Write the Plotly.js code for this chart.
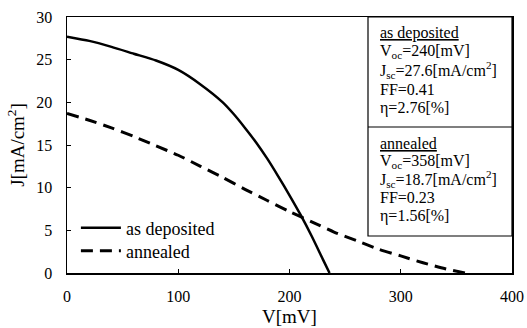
<!DOCTYPE html>
<html>
<head>
<meta charset="utf-8">
<script src="https://cdn.plot.ly/plotly-3.0.1.min.js"></script>
<style>
  html, body { margin: 0; padding: 0; background: #fff; }
  #chart { width: 527px; height: 328px; }
  #chart text { font-family: "Liberation Serif", "Times New Roman", serif !important; }
</style>
</head>
<body>
<div id="chart"></div>
<script>
// J–V curves of the cell before and after annealing
const seriesNames = ['as deposited', 'annealed'];

const vDeposited = [0, 20, 40, 60, 80, 100, 120, 140, 150, 160, 170, 180, 190, 200, 210, 220, 230, 236];
const jDeposited = [27.7, 27.2, 26.5, 25.7, 24.9, 23.8, 22.1, 20.0, 18.6, 17.0, 15.3, 13.4, 11.3, 9.1, 6.8, 4.3, 1.6, 0];

const vAnnealed = [0, 20, 40, 60, 80, 100, 120, 140, 160, 180, 200, 220, 240, 260, 280, 300, 320, 340, 358];
const jAnnealed = [18.7, 17.9, 17.0, 16.0, 14.9, 13.8, 12.5, 11.2, 9.8, 8.5, 7.2, 6.0, 4.8, 3.8, 2.8, 2.0, 1.2, 0.5, 0];

const xTicks = [0, 100, 200, 300, 400];
const yTicks = [0, 5, 10, 15, 20, 25, 30];

// parameter table text
const paramDeposited = [
  '<u>as deposited</u>',
  'V<sub>oc</sub>=240[mV]',
  'J<sub>sc</sub>=27.6[mA/cm<sup>2</sup>]',
  'FF=0.41',
  'η=2.76[%]'
];
const paramAnnealed = [
  '<u>annealed</u>',
  'V<sub>oc</sub>=358[mV]',
  'J<sub>sc</sub>=18.7[mA/cm<sup>2</sup>]',
  'FF=0.23',
  'η=1.56[%]'
];

const FONT = 'Liberation Serif';

const traces = [
  {
    x: vDeposited, y: jDeposited, name: seriesNames[0], legend: 'legend',
    mode: 'lines', line: { color: '#000', width: 2.5, shape: 'spline', smoothing: 0.6 }
  },
  {
    x: vAnnealed, y: jAnnealed, name: seriesNames[1], legend: 'legend2',
    mode: 'lines', line: { color: '#000', width: 3, dash: '12px,7px', shape: 'spline', smoothing: 0.6 }
  }
];

function paramLines(lines, yTop, step) {
  return lines.map((t, i) => ({
    xref: 'paper', yref: 'paper',
    x: (378 - 67) / 445, y: 1 - (yTop + i * step - 17) / 256,
    xanchor: 'left', yanchor: 'middle',
    text: t, showarrow: false,
    font: { family: FONT, size: 16, color: '#000' }
  }));
}

function legendAt(yCenter) {
  return {
    x: 0.02, y: 1 - (yCenter - 17) / 256, xanchor: 'left', yanchor: 'middle',
    bgcolor: 'rgba(0,0,0,0)', borderwidth: 0,
    font: { family: FONT, size: 18, color: '#000' },
    itemwidth: 40
  };
}

const layout = {
  width: 527, height: 328,
  margin: { l: 67, r: 15, t: 17, b: 55 },
  paper_bgcolor: '#fff', plot_bgcolor: '#fff',
  font: { family: FONT, color: '#000', size: 16 },
  showlegend: true,
  legend: legendAt(228),
  legend2: legendAt(251),
  xaxis: {
    range: [0, 400], tickvals: xTicks, ticks: 'inside', ticklen: 4,
    tickcolor: '#000', showline: true, linecolor: '#000', linewidth: 1.5, mirror: true,
    showgrid: false, zeroline: false,
    tickfont: { family: FONT, size: 16 },
    ticklabelstandoff: 8,
    title: { text: 'V[mV]', font: { family: FONT, size: 19 }, standoff: 6 }
  },
  yaxis: {
    range: [0, 30], tickvals: yTicks, ticks: 'inside', ticklen: 4,
    tickcolor: '#000', showline: true, linecolor: '#000', linewidth: 1.5, mirror: true,
    showgrid: false, zeroline: false,
    tickfont: { family: FONT, size: 16 },
    ticklabelstandoff: 10,
    title: { text: 'J[mA/cm<sup>2</sup>]', font: { family: FONT, size: 19 }, standoff: 6 }
  },
  shapes: [
    {
      type: 'rect', xref: 'paper', yref: 'paper',
      x0: (368 - 67) / 445, x1: 1, y0: 1 - (236 - 17) / 256, y1: 1,
      line: { color: '#000', width: 1.2 }, fillcolor: '#fff', layer: 'above'
    },
    {
      type: 'line', xref: 'paper', yref: 'paper',
      x0: (368 - 67) / 445, x1: 1, y0: 1 - (127 - 17) / 256, y1: 1 - (127 - 17) / 256,
      line: { color: '#000', width: 1.2 }
    }
  ],
  annotations: paramLines(paramDeposited, 33, 18.7).concat(paramLines(paramAnnealed, 143, 18.2))
};

Plotly.newPlot('chart', traces, layout, { displayModeBar: false, staticPlot: true });
</script>
</body>
</html>
